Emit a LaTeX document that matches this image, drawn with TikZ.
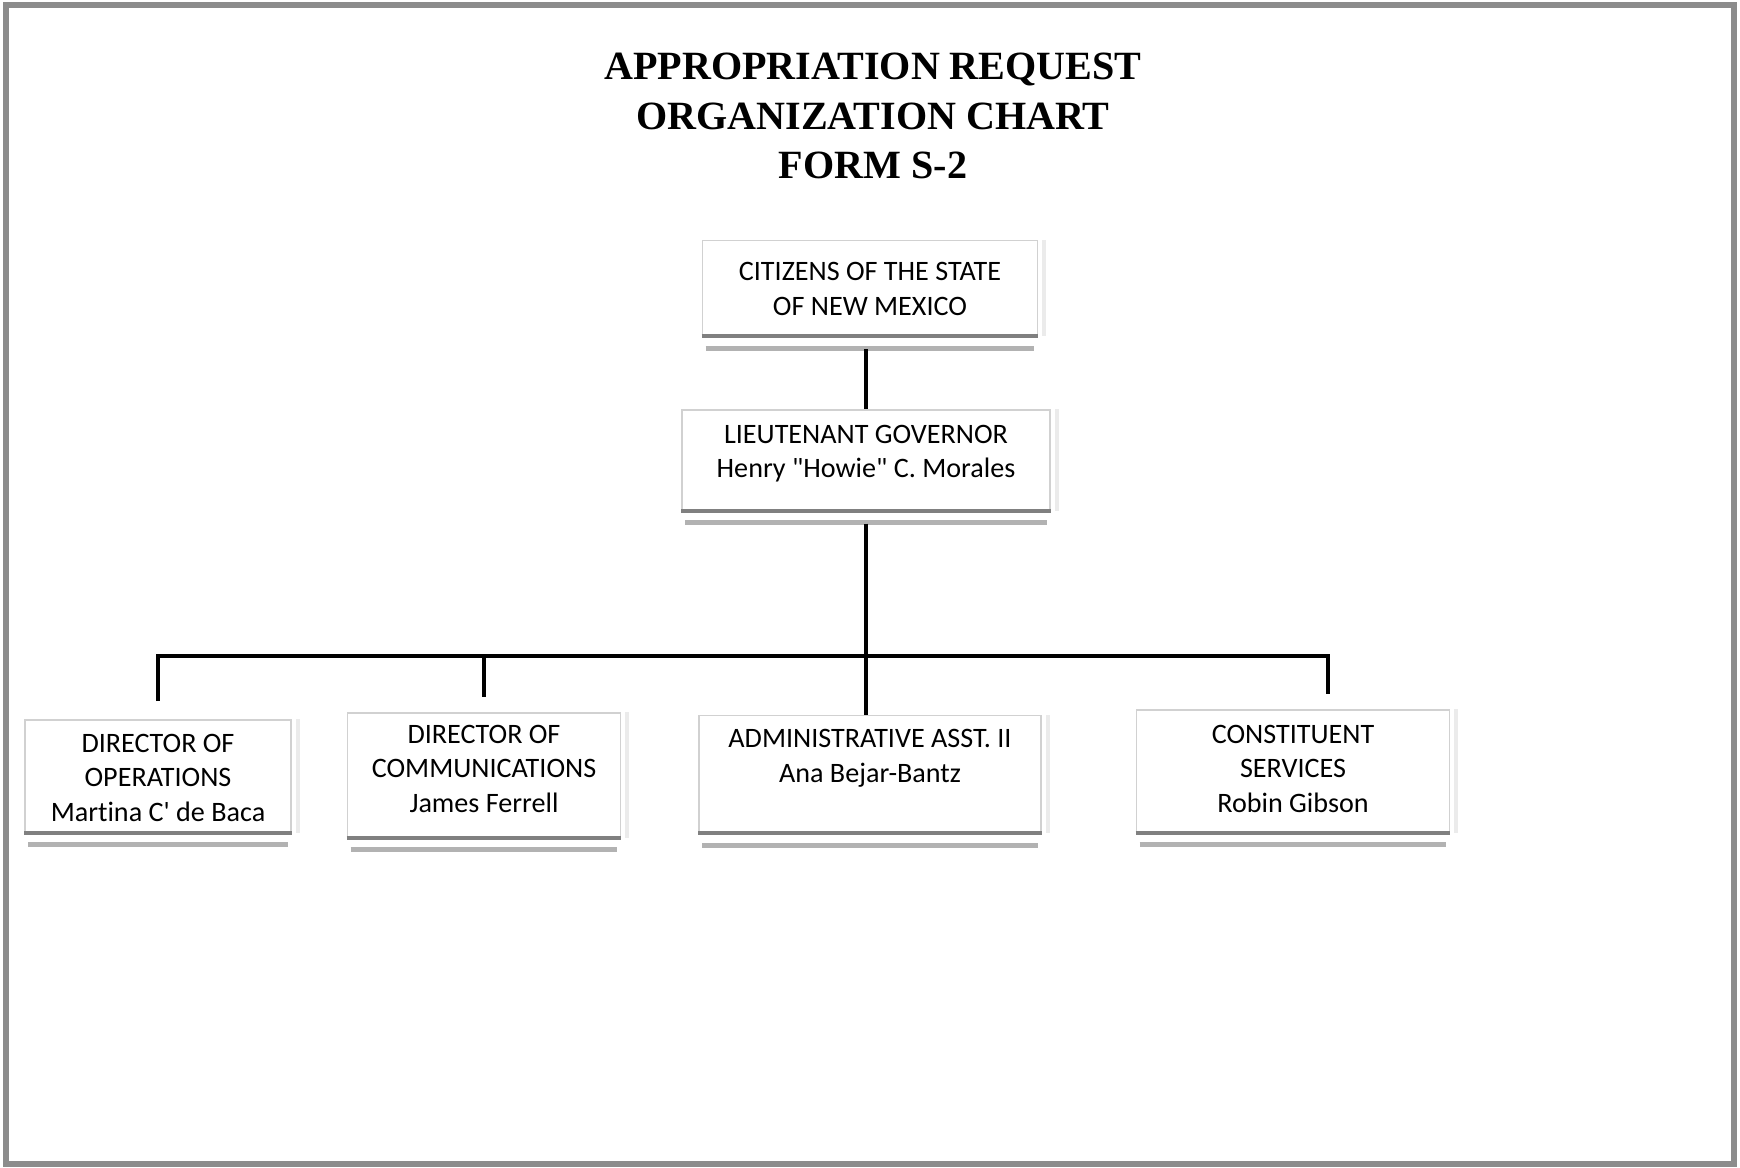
\documentclass[tikz,border=0pt]{standalone}
\usepackage{fontspec}
\setmainfont{Liberation Serif}
\newfontfamily\chartfont[Ligatures=NoCommon]{Carlito}
\usetikzlibrary{positioning}

\begin{document}
\begin{tikzpicture}[x=0.01cm,y=-0.01cm,
                  chart box/.style n args={3}{rectangle,draw=black!18,fill=white,align=center,inner sep=0pt,
                                    minimum width=#1,text height=#2,text depth=#3,
                                    font=\chartfont\fontsize{8}{9.8}\selectfont},
                  link/.style={line width=0.9pt,black}]

    \useasboundingbox (0,0) rectangle (1740,1168);
    \draw[black!45,line width=1.8pt] (6,5) rectangle (1734,1164);

    \node[font=\bfseries\fontsize{11.4}{14.2}\selectfont,align=center] (title) at (873,116)
      {APPROPRIATION REQUEST\\ORGANIZATION CHART\\FORM S-2};

    \node[chart box={3.35cm}{0.745cm}{0.205cm}] (citizens) at (870,288)
      {CITIZENS OF THE STATE\\OF NEW MEXICO};
    \node[chart box={3.68cm}{0.675cm}{0.325cm}] (ltgov) at (866,460)
      {LIEUTENANT GOVERNOR\\Henry "Howie" C. Morales};

    \node[chart box={2.66cm}{1.01cm}{0.11cm}] (ops) at (158,776)
      {DIRECTOR OF\\OPERATIONS\\Martina C' de Baca};
    \node[chart box={2.73cm}{0.99cm}{0.25cm}] (comm) at (484,775)
      {DIRECTOR OF\\COMMUNICATIONS\\James Ferrell};
    \node[chart box={3.42cm}{0.665cm}{0.505cm}] (admin) at (870,774)
      {ADMINISTRATIVE ASST. II\\Ana Bejar-Bantz};
    \node[chart box={3.13cm}{1.02cm}{0.20cm}] (cons) at (1293,771)
      {CONSTITUENT\\SERVICES\\Robin Gibson};

    % box shadows
    \foreach \b in {citizens,ltgov,ops,comm,admin,cons}{
      \draw[black!8,line width=1.2pt] ([xshift=0.6mm]\b.north east) -- ([xshift=0.6mm]\b.south east);
      \draw[black!50,line width=1.1pt] (\b.south west) -- (\b.south east);
      \draw[black!30,line width=1.4pt] ([shift={(4,12)}]\b.south west) -- ([shift={(-4,12)}]\b.south east);
    }

    \coordinate (bus) at (864,656);
    \coordinate (busend) at (1328,656);

    \draw[link] ([yshift=-1.3mm]ltgov.north |- citizens.south) -- (ltgov.north);
    \draw[link,shorten <=1.3mm] (ltgov.south) -- (ltgov.south |- admin.north);
    \draw[link,shorten <=1.8mm,shorten >=1.5mm] (ops.north) |- (busend) -- (busend |- cons.north);
    \draw[link,shorten >=1.5mm] (comm.north |- bus) -- (comm.north);
\end{tikzpicture}
\end{document}
